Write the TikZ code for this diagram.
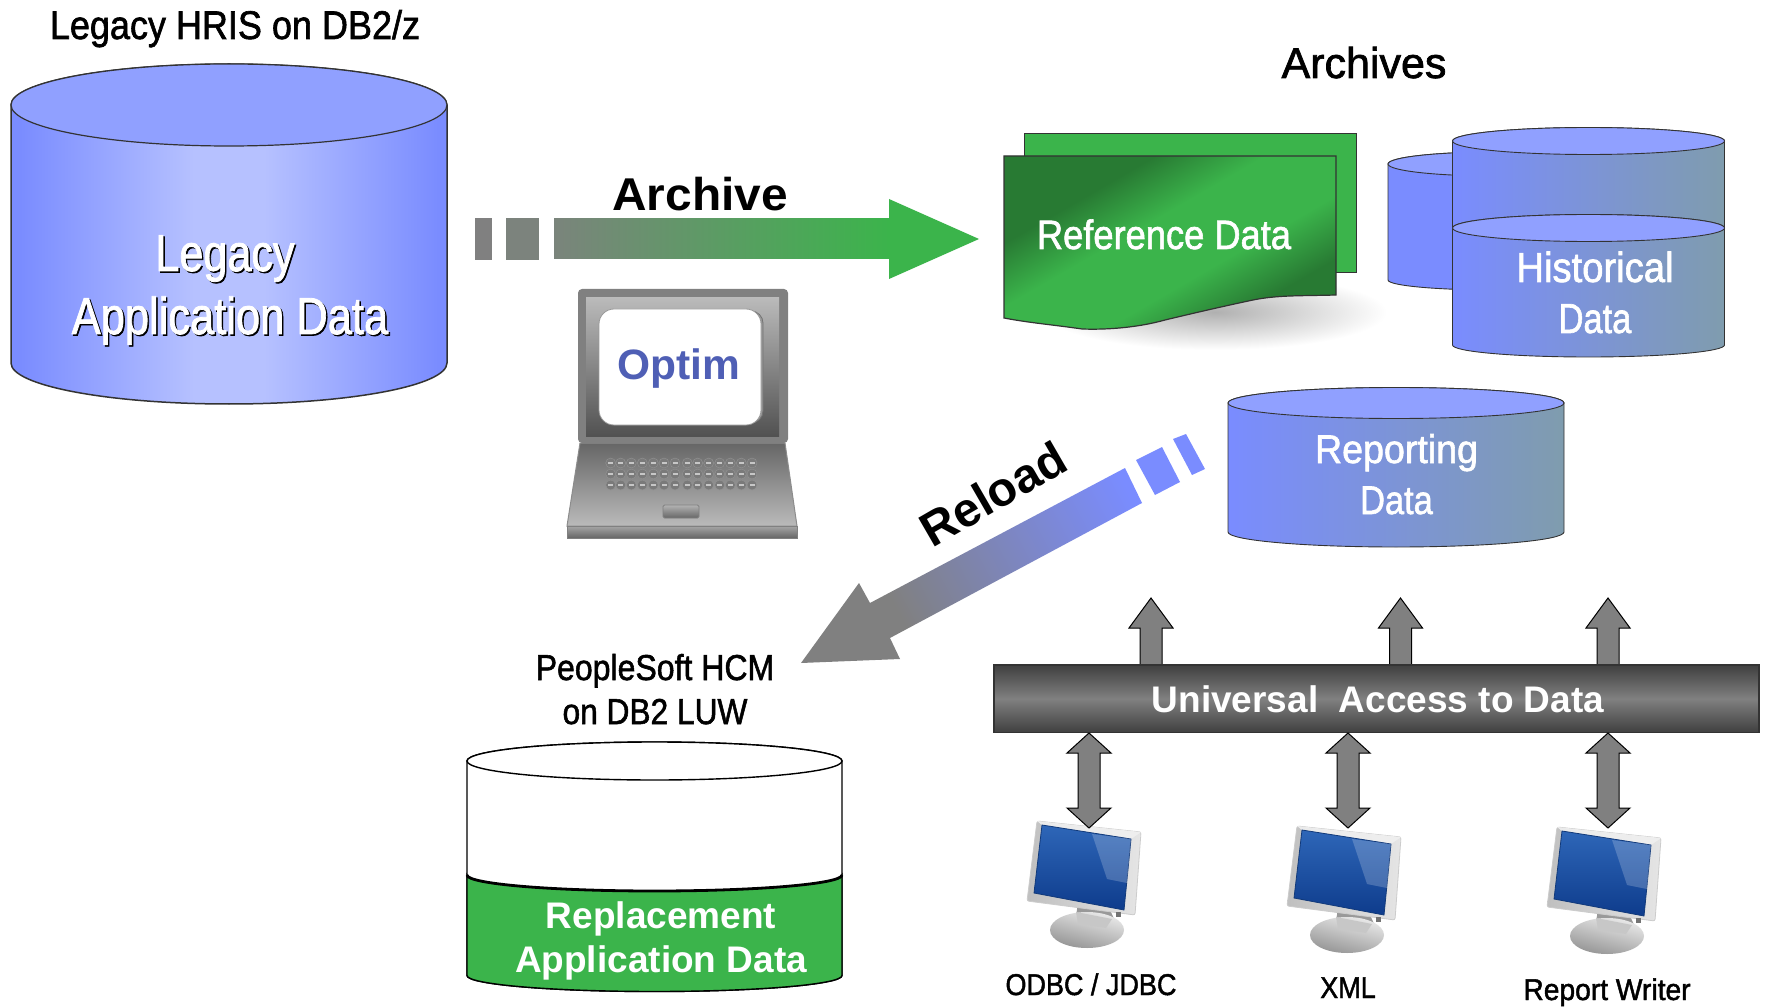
\documentclass[tikz,border=0pt]{standalone}
\usepackage{graphicx}
\usepackage{fontspec}
\setmainfont{Liberation Sans}
\newfontfamily\rgf[FakeBold=1.6]{Liberation Sans}
\usetikzlibrary{calc}
\definecolor{cylL}{HTML}{7A8CFF}
\definecolor{cylM}{HTML}{B6C1FF}
\definecolor{cylT}{HTML}{90A0FF}
\definecolor{cylR}{HTML}{7F9CAE}
\definecolor{grn}{HTML}{3BB44B}
\definecolor{grnD}{HTML}{287A33}
\definecolor{gry}{HTML}{808080}
\definecolor{edge}{HTML}{333333}
\definecolor{opt}{HTML}{4F5FB5}
\definecolor{scrA}{HTML}{2E66B8}
\definecolor{scrB}{HTML}{0E3C8C}
\definecolor{scrC}{HTML}{123A7A}
\pgfdeclarehorizontalshading{refdoc}{100bp}{color(0bp)=(grnD); color(32bp)=(grnD); color(44bp)=(grn); color(59bp)=(grn); color(71bp)=(grnD); color(100bp)=(grnD)}
\pgfdeclarehorizontalshading{legsh}{100bp}{color(0bp)=(cylL); color(26bp)=(cylL); color(46bp)=(cylM); color(54bp)=(cylM); color(74bp)=(cylL); color(100bp)=(cylL)}
\pgfdeclarehorizontalshading{relsh}{100bp}{color(0bp)=(gry); color(35bp)=(gry); color(80bp)=(cylL); color(100bp)=(cylL)}
% size, horizontal squeeze, text
\newcommand\sq[3]{\scalebox{#2}[1]{\fontsize{#1}{#1}\rgf\selectfont #3}}
\newcommand\sqb[3]{\scalebox{#2}[1]{\fontsize{#1}{#1}\selectfont\bfseries #3}}
% x1,x2,centre y,top ry,side bottom y,bottom ry,body style,top style
\newcommand\cyl[8]{%
  \pgfmathsetmacro\crx{(#2-#1)/2}\pgfmathsetmacro\ccx{(#1+#2)/2}%
  \path[#7] (#1,#3) -- (#1,#5) arc[start angle=180,end angle=0,x radius=\crx,y radius=#6] -- (#2,#3) arc[start angle=0,end angle=-180,x radius=\crx,y radius=#4] -- cycle;%
  \path[#8] (\ccx,#3) ellipse[x radius=\crx,y radius=#4];}
\newcommand\uparr[1]{\path[blockarrow] (#1,598) -- (#1+22,628) -- (#1+11,628) -- (#1+11,665) -- (#1-11,665) -- (#1-11,628) -- (#1-22,628) -- cycle;}
\newcommand\dblarr[1]{\path[blockarrow] (#1,733) -- (#1+22,753) -- (#1+11,753) -- (#1+11,808) -- (#1+22,808) -- (#1,828) -- (#1-22,808) -- (#1-11,808) -- (#1-11,753) -- (#1-22,753) -- cycle;}
\tikzset{
  txt/.style={inner sep=0pt,outer sep=0pt,anchor=base},
  whitetxt/.style={txt,text=white},
  blockarrow/.style={fill=gry,draw=black,line width=1pt,line join=miter},
  bodyflat/.style={fill=cylL,draw=edge,line width=.9pt},
  bodygrad/.style={left color=cylL,right color=cylR,draw=edge,line width=.9pt},
  cyltop/.style={fill=cylT,draw=edge,line width=.9pt},
  monitor/.pic={
    \path[fill=black!40] (1078,905) -- (1110,912) -- (1116,925) -- (1075,925) -- cycle;
    \path[left color=black!8,right color=black!42,shading angle=-15] (1087,932) ellipse[x radius=37,y radius=18];
    \path[fill=black!22] (1076,914) -- (1112,921) -- (1106,930) -- (1078,926) -- cycle;
    \path[left color=black!25,right color=black!10,draw=black!20,line width=.8pt,rounded corners=2pt] (1037,823) -- (1141,834) -- (1135,917) -- (1027,903) -- cycle;
    \path[fill=black!6,opacity=.9] (1037,823) -- (1141,834) -- (1131,841) -- (1042,827) -- cycle;
    \path[top color=scrA,bottom color=scrB,draw=scrC,line width=.8pt] (1042,827) -- (1131,841) -- (1124,912) -- (1034,895) -- cycle;
    \path[fill=white,opacity=.2] (1092,836) -- (1131,841) -- (1127,885) -- (1107,881) -- cycle;
    \path[fill=black!55] (1116,914) rectangle (1121,919);
  }
}
\begin{document}
\begin{tikzpicture}[x=1pt,y=-1pt]
\useasboundingbox (0,0) rectangle (1765,1008);
\fill[white] (0,0) rectangle (1765,1008);

% Legacy cylinder
\cyl{11}{447}{105}{41}{363}{41}{shading=legsh,draw=edge,line width=1.5pt}{fill=cylT,draw=edge,line width=1.2pt}
\node[txt] (legacyTitle) at (235,39) {\sq{40}{.90}{Legacy HRIS on DB2/z}};
\node[txt,text=black] at (226.5,272.5) {\sq{52}{.83}{Legacy}};
\node[whitetxt] (legacy1) at (225,271) {\sq{52}{.83}{Legacy}};
\node[txt,text=black] at (231.5,335.5) {\sq{52}{.836}{Application Data}};
\node[whitetxt] (legacy2) at (230,334) {\sq{52}{.836}{Application Data}};

% Archive arrow
\fill[gry] (475,218) rectangle (492,260);
\fill[gry!95!grn] (506,218) rectangle (539,260);
\shade[left color=gry!92!grn,right color=grn] (554,219) rectangle (889.5,259);
\fill[grn] (889,199) -- (979,239) -- (889,279) -- cycle;
\node[txt] (archive) at (700,211) {\sqb{46}{1.04}{Archive}};

% Laptop
\path[top color=black!60,bottom color=black!27,draw=black!45,line width=1pt] (580,443) -- (785,443) -- (797,526) -- (567,526) -- cycle;
\path[top color=black!35,bottom color=black!60,draw=black!50,line width=.8pt] (567,526) rectangle (797,538);
\fill[gry,rounded corners=4pt] (578,289) rectangle (788,443);
\path[top color=black!27,bottom color=black!68] (586,298) rectangle (779,436);
\path[fill=black!40,draw=black!55,line width=.8pt,rounded corners=12pt] (610,311) rectangle (763,423);
\path[fill=white,draw=black!40,line width=.8pt,rounded corners=15pt] (599,309) rectangle (761,425);
\node[txt,text=opt] (optim) at (679,379) {\sqb{42.5}{1}{Optim}};
\foreach \yy in {463,474,485}
  \foreach \xx in {610.7,620.7,631.3,642.3,653.3,664,675,687.3,697.7,708.7,719.7,730.3,741.3,752}{
    \path[fill=black!52,draw=black!42,line width=.4pt] (\xx,\yy) circle[radius=5];
    \fill[black!22] (\xx-2.5,\yy-.8) rectangle (\xx+2.5,\yy+.8);
  }
\path[top color=black!30,bottom color=black!60,draw=black!50,line width=.8pt,rounded corners=1.5pt] (663,505) rectangle (699,518);

% Reference data shadow and documents
\shade[inner color=black!31,outer color=white] (1215,312) ellipse[x radius=172,y radius=38];
\path[fill=grn,draw=edge,line width=1pt] (1024,134) rectangle (1356,273);
\path[shading=refdoc,shading angle=-60,draw=edge,line width=1.2pt] (1004,156) -- (1336,156) -- (1336,295)
  .. controls (1300,296) and (1278,295) .. (1253,300)
  .. controls (1220,307) and (1190,314) .. (1165,320)
  .. controls (1140,327) and (1110,330) .. (1082,329)
  .. controls (1055,325) and (1030,323) .. (1004,318) -- cycle;
\node[whitetxt] (refdata) at (1164,249) {\sq{41}{.885}{Reference Data}};

% Archives title
\node[txt] (archives) at (1364,78) {\sq{43}{1}{Archives}};

% Historical cylinders
\cyl{1388}{1600}{164}{12}{280}{10}{bodyflat}{cyltop}
\cyl{1452.5}{1724.5}{141}{13.5}{255}{12}{bodygrad}{cyltop}
\cyl{1452.5}{1724.5}{228}{13.5}{345}{12}{bodygrad}{cyltop}
\node[whitetxt] (hist1) at (1595,282) {\sq{42}{.91}{Historical}};
\node[whitetxt] (hist2) at (1595,333) {\sq{42}{.82}{Data}};

% Reporting cylinder
\cyl{1228}{1564}{403}{15.5}{532}{15}{bodygrad}{cyltop}
\node[whitetxt] (rep1) at (1396.5,463) {\sq{40}{.94}{Reporting}};
\node[whitetxt] (rep2) at (1396.5,514) {\sq{40}{.86}{Data}};

% Reload arrow
\fill[cylL] (1173,439) -- (1186,434) -- (1205,469) -- (1192,475) -- cycle;
\fill[cylL] (1136,460) -- (1162,447) -- (1180,482) -- (1155,495) -- cycle;
\path[shading=relsh,shading angle=28] (1125,468) -- (870,603) -- (859,583) -- (801,663) -- (900,659) -- (890,638) -- (1142,503) -- cycle;
\node[txt,rotate=30] (reload) at (1001.5,508.5) {\sqb{48}{1}{Reload}};

% Universal access
\uparr{1151}
\uparr{1400.5}
\uparr{1608}
\path[top color=black!75,bottom color=black!75,middle color=gry,draw=edge,line width=1.6pt] (994,665) rectangle (1759,732.5);
\node[whitetxt] (uad) at (1378,712) {\sqb{37}{1}{Universal\ \ Access to Data}};

% Monitors
\pic at (0,-2) {monitor};
\pic at (260,3) {monitor};
\pic at (520,4) {monitor};
\dblarr{1089}
\dblarr{1348}
\dblarr{1608}
\node[txt] (odbc) at (1091,995) {\sq{30}{.90}{ODBC / JDBC}};
\node[txt] (xml) at (1348,998) {\sq{30}{.90}{XML}};
\node[txt] (rw) at (1607,1000) {\sq{30}{.94}{Report Writer}};

% PeopleSoft
\node[txt] (ps1) at (655,680) {\sq{36}{.89}{PeopleSoft HCM}};
\node[txt] (ps2) at (655,724) {\sq{36}{.88}{on DB2 LUW}};
\cyl{467}{842}{761}{19}{975.5}{16}{fill=white,draw=black,line width=1.4pt}{fill=white,draw=black,line width=1.4pt}
\path[fill=grn,draw=black,line width=1.4pt] (467,875) -- (467,975.5) arc[start angle=180,end angle=0,x radius=187.5,y radius=16] -- (842,875) arc[start angle=0,end angle=180,x radius=187.5,y radius=16] -- cycle;
\draw[black,line width=2.8pt] (467,875) arc[start angle=180,end angle=0,x radius=187.5,y radius=16];
\node[whitetxt] (rep3) at (661,928) {\sqb{37}{1}{Replacement}};
\node[whitetxt] (rep4) at (661,972) {\sqb{37}{1}{Application Data}};
\end{tikzpicture}
\end{document}
